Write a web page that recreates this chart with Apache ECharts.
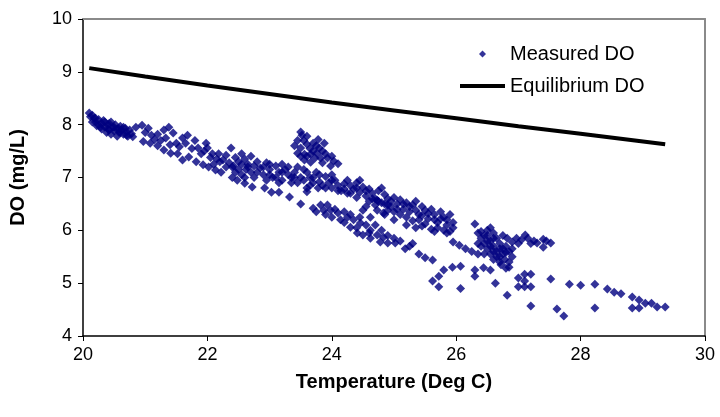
<!DOCTYPE html>
<html>
<head>
<meta charset="utf-8">
<script src="https://cdn.jsdelivr.net/npm/echarts@6/dist/echarts.min.js"></script>
<style>
html,body{margin:0;padding:0;background:#fff;}
#chart{width:720px;height:417px;}
</style>
</head>
<body>
<div id="chart"></div>
<script>
// Axis ticks
var xTicks = {min: 20, max: 30, interval: 2};
var yTicks = {min: 4, max: 10, interval: 1};

// Measured DO (temperature degC, DO mg/L)
var bandStart = [[20.1,8.22],[20.12,8.15],[20.18,8.12],[20.2,8.05],[20.25,8.1],[20.22,7.98],[20.3,8.02],[20.33,8.08],[20.35,7.95],[20.4,8.0],[20.42,7.9],[20.45,8.05],[20.48,7.95],[20.5,7.88],[20.52,8.0],[20.55,7.92],[20.58,7.85],[20.6,7.97],[20.62,7.9],[20.65,7.82],[20.68,7.93],[20.7,7.86],[20.72,7.78],[20.75,7.9],[20.78,7.83],[20.3,7.92],[20.38,7.85],[20.28,7.95],[20.15,8.05],[20.45,7.82],[20.55,7.78],
  [20.15,8.18],[20.25,8.0],[20.35,8.05],[20.4,7.92],[20.5,7.95],[20.6,7.85],[20.65,7.95],[20.7,7.8],[20.2,8.12],[20.42,8.02],[20.58,7.92]];
var upperBandWest = [[20.85,7.95],[20.95,7.99],[21.05,7.93],[21.0,7.85],[21.1,7.8],[21.2,7.82],[21.3,7.9],[21.38,7.95],[21.45,7.84],[21.33,7.75],[21.5,7.65],[21.68,7.8],[21.65,7.65],[21.8,7.7],[21.98,7.65],[21.85,7.56],[22.0,7.56],[22.08,7.45],[22.18,7.45],[22.38,7.56],[22.25,7.33],[22.35,7.28],[22.42,7.22],[22.15,7.35],[22.3,7.42],[22.45,7.38],[22.5,7.3],[22.55,7.45],[22.6,7.35],[22.65,7.25],[22.7,7.4],
  [21.15,7.72],[21.25,7.7],[21.4,7.62],[21.55,7.58],[21.75,7.55],[21.9,7.45],[22.05,7.38],[22.2,7.3],[21.6,7.75],[21.95,7.5],[22.1,7.25],[22.3,7.2]];
var lowerEdgeWest = [[20.8,7.77],[20.97,7.68],[21.08,7.65],[21.2,7.6],[21.3,7.52],[21.41,7.46],[21.52,7.45],[21.6,7.33],[21.7,7.39],[21.82,7.3],[21.93,7.24],[22.02,7.2],[22.13,7.14],[22.22,7.1],[22.4,7.0],[22.48,6.95],[22.6,6.89],[22.72,6.82],[22.92,6.8],[23.03,6.72],[23.15,6.72],[23.32,6.63],[23.5,6.5]];
var midBand = [[22.4,7.2],[22.5,7.15],[22.55,7.05],[22.62,7.15],[22.7,7.1],[22.75,7.22],[22.8,7.3],[22.85,7.18],[22.9,7.05],[22.95,7.28],[23.0,7.15],[23.05,7.0],[23.1,7.22],[23.15,7.1],[23.2,6.95],[23.25,7.15],[23.3,7.05],[23.35,6.9],[23.4,7.1],[23.45,7.2],[23.5,7.0],[23.55,6.95],[23.6,7.1],[23.65,6.85],[23.7,7.0],[23.75,7.1],[23.8,6.92],[23.85,6.85],[23.9,7.02],[23.95,6.9],[24.0,6.8],[24.05,6.95],[24.1,6.85],[24.15,6.75],[24.2,6.88],[24.25,6.7],[23.0,7.25],[23.2,7.25],[22.95,6.95],[23.35,7.0],[23.6,6.8],[24.0,7.05],[23.78,6.8],
  [22.45,7.1],[22.6,7.0],[22.65,7.2],[22.8,7.1],[22.9,7.2],[23.0,7.05],[23.1,7.0],[23.2,7.1],[23.3,7.2],[23.4,7.0],[23.45,6.9],[23.55,7.15],[23.65,7.0],[23.7,6.9],[23.8,7.05],[23.9,6.8],[24.0,6.95],[24.1,6.75],[24.2,6.78],[23.15,6.9],[22.75,7.0],[22.55,7.25]];
var stubCluster = [[23.5,7.86],[23.6,7.78],[23.4,7.6],[23.5,7.56],[23.6,7.63],[23.7,7.65],[23.78,7.72],[23.88,7.65],[23.8,7.56],[23.45,7.46],[23.56,7.44],[23.66,7.44],[23.76,7.46],[23.73,7.37],[23.56,7.33],[23.66,7.29],[23.82,7.37],[23.93,7.37],[24.03,7.31],[24.1,7.26],[23.98,7.22],[23.5,7.4],[23.85,7.28],
  [23.45,7.7],[23.55,7.7],[23.65,7.55],[23.7,7.5],[23.9,7.45],[23.6,7.4],[23.75,7.6],[24.0,7.4],[23.52,7.8],[23.85,7.5]];
var upperBandEast = [[24.25,6.95],[24.3,6.85],[24.35,6.78],[24.4,6.9],[24.45,6.72],[24.5,6.82],[24.55,6.65],[24.6,6.78],[24.65,6.7],[24.7,6.6],[24.75,6.75],[24.8,6.52],[24.85,6.68],[24.9,6.6],[24.95,6.45],[25.0,6.62],[25.05,6.5],[25.1,6.58],[25.15,6.4],[25.2,6.52],[25.25,6.35],[25.3,6.48],[25.35,6.55],[25.4,6.3],[25.45,6.45],[25.5,6.38],[25.55,6.22],[25.6,6.4],[25.65,6.3],[25.7,6.15],[25.75,6.35],[25.8,6.25],[25.85,6.1],[25.9,6.3],[25.95,6.05],[24.6,6.55],[24.9,6.38],[25.2,6.25],[25.5,6.12],[25.8,6.0],[25.1,6.3],[25.4,6.2],[25.7,6.05],[24.4,6.62],[24.7,6.48],[25.0,6.35],[25.3,6.18],[25.6,6.02],[25.85,5.95],[24.45,6.95],[24.8,6.8],
  [24.3,6.7],[24.4,6.8],[24.55,6.75],[24.65,6.6],[24.75,6.55],[24.85,6.5],[24.95,6.55],[25.05,6.4],[25.15,6.5],[25.25,6.45],[25.35,6.38],[25.45,6.28],[25.55,6.32],[25.65,6.2],[25.75,6.22],[25.85,6.2],[25.95,6.15],[25.0,6.2],[25.2,6.1],[25.45,6.08],[25.65,5.98],[24.55,6.45],[24.85,6.3],[25.35,6.05],[25.9,5.98]];
var crossCluster = [[25.95,5.78],[26.05,5.72],[26.15,5.65],[26.25,5.6],[26.35,5.55],[26.3,6.12],[26.35,5.95],[26.4,5.85],[26.45,5.75],[26.5,5.9],[26.5,5.65],[26.55,5.8],[26.55,5.55],[26.6,5.7],[26.6,5.45],[26.65,5.85],[26.65,5.6],[26.7,5.5],[26.7,5.75],[26.72,5.35],[26.75,5.65],[26.78,5.45],[26.8,5.28],[26.8,5.58],[26.85,5.4],[26.4,5.98],[26.45,5.55],[26.75,5.9],[26.82,5.85],[26.9,5.78],[26.97,5.85],[27.05,5.82],[27.11,5.91],[27.2,5.75],[27.3,5.76],[27.4,5.83],[27.4,5.68],[27.52,5.76],[26.9,5.5],[26.6,5.95],[26.5,6.0],
  [26.4,5.7],[26.45,5.9],[26.55,5.7],[26.6,5.85],[26.65,5.5],[26.7,5.4],[26.75,5.55],[26.8,5.7],[26.85,5.6],[26.6,5.6],[26.5,5.8],[26.7,5.65],[26.85,5.3],[26.35,5.75],[26.55,6.05],[26.9,5.65],[27.0,5.75],[27.15,5.85],[27.25,5.8],[27.45,5.8]];
var lowerBandEast = [[23.6,6.73],[23.7,6.42],[23.82,6.48],[23.93,6.48],[23.98,6.38],[23.87,6.38],[24.1,6.33],[24.14,6.2],[24.25,6.25],[24.35,6.2],[24.3,6.06],[24.46,6.14],[24.41,5.95],[24.5,5.91],[24.62,6.0],[24.73,5.91],[24.83,5.87],[24.62,6.25],[24.73,6.38],[24.83,6.33],[24.9,6.48],[24.5,6.38],[24.73,6.57],[24.62,5.85],[24.78,5.78],[24.9,5.76],[25.02,5.76],[25.18,5.65],[25.4,5.55],[25.5,5.48],[25.62,5.44],[25.8,5.25],[25.94,5.3],[26.07,5.32],[25.72,5.13],[25.62,5.04],[25.72,4.93],[26.3,5.25],[26.3,5.13],[26.44,5.29],[26.55,5.25],[26.63,5.0],[26.07,4.9],
  [23.75,6.35],[23.9,6.3],[24.0,6.25],[24.05,6.4],[24.2,6.15],[24.2,6.35],[24.3,6.3],[24.4,6.05],[24.45,6.25],[24.55,6.1],[24.6,5.95],[24.7,6.1],[24.8,6.0],[24.9,5.9],[25.0,5.85],[25.1,5.8],[25.25,5.7],[25.3,5.75]];
var warmTail = [[26.82,4.77],[27.0,5.1],[27.1,5.17],[27.2,5.17],[27.1,5.04],[27.0,4.93],[27.1,4.93],[27.2,4.93],[27.2,4.57],[27.52,5.08],[27.62,4.51],[27.73,4.38],[27.82,4.98],[28.0,4.96],[28.23,4.98],[28.23,4.53],[28.43,4.89],[28.54,4.83],[28.65,4.8],[28.83,4.74],[28.94,4.68],[29.04,4.62],[29.14,4.62],[28.83,4.53],[28.94,4.53],[29.23,4.55],[29.36,4.55]];

// Equilibrium DO line
var eqTemp = [20.1, 21, 22, 23, 24, 25, 26, 27, 28, 29.36];
var eqDO = [9.07, 8.91, 8.74, 8.58, 8.42, 8.27, 8.12, 7.97, 7.83, 7.63];

var measured = [].concat(bandStart, upperBandWest, lowerEdgeWest, midBand, stubCluster, upperBandEast, crossCluster, lowerBandEast, warmTail);
var eqData = eqTemp.map(function (t, i) { return [t, eqDO[i]]; });

var FONT = "'Liberation Sans', Arial, sans-serif";
var chart = echarts.init(document.getElementById('chart'), null, {renderer: 'canvas'});
chart.setOption({
  animation: false,
  backgroundColor: '#ffffff',
  textStyle: {fontFamily: FONT, color: '#000'},
  grid: {left: 82, right: 15, top: 19, bottom: 81, containLabel: false},
  legend: [
    {data: ['Measured DO'], orient: 'vertical', left: 479, top: 44, padding: 0, icon: 'diamond', itemWidth: 7, itemHeight: 7,
     textStyle: {fontFamily: FONT, fontSize: 20, color: '#000', padding: [0, 0, 0, 19]}},
    {data: ['Equilibrium DO'], orient: 'vertical', left: 460, top: 76, padding: 0, icon: 'rect', itemWidth: 45, itemHeight: 4,
     textStyle: {fontFamily: FONT, fontSize: 20, color: '#000'}}
  ],
  xAxis: [
    {type: 'value', min: xTicks.min, max: xTicks.max, interval: xTicks.interval,
     name: 'Temperature (Deg C)', nameLocation: 'middle', nameGap: 36,
     nameTextStyle: {fontFamily: FONT, fontSize: 20, fontWeight: 'bold', color: '#000'},
     axisLine: {onZero: false, lineStyle: {color: '#000', width: 1.5}},
     axisTick: {show: true, length: 5, lineStyle: {color: '#000', width: 1}},
     axisLabel: {fontFamily: FONT, fontSize: 18, color: '#000', margin: 10},
     splitLine: {show: false}},
    {type: 'value', position: 'top', min: xTicks.min, max: xTicks.max,
     axisLine: {show: true, lineStyle: {color: '#8a8a8a', width: 2}},
     axisTick: {show: false}, axisLabel: {show: false}, splitLine: {show: false}}
  ],
  yAxis: [
    {type: 'value', min: yTicks.min, max: yTicks.max, interval: yTicks.interval,
     name: 'DO (mg/L)', nameLocation: 'middle', nameGap: 55,
     nameTextStyle: {fontFamily: FONT, fontSize: 20, fontWeight: 'bold', color: '#000'},
     axisLine: {show: true, onZero: false, lineStyle: {color: '#000', width: 1.5}},
     axisTick: {show: true, length: 5, lineStyle: {color: '#000', width: 1}},
     axisLabel: {fontFamily: FONT, fontSize: 18, color: '#000', margin: 11},
     splitLine: {show: false}},
    {type: 'value', position: 'right', min: yTicks.min, max: yTicks.max,
     axisLine: {show: true, lineStyle: {color: '#8a8a8a', width: 2}},
     axisTick: {show: false}, axisLabel: {show: false}, splitLine: {show: false}}
  ],
  series: [
    {name: 'Measured DO', type: 'scatter', data: measured, symbol: 'diamond', symbolSize: 9,
     itemStyle: {color: '#000080'}, z: 2},
    {name: 'Equilibrium DO', type: 'line', data: eqData, showSymbol: false, symbol: 'none',
     lineStyle: {color: '#000', width: 4}, itemStyle: {color: '#000'}, z: 3}
  ]
});
</script>
</body>
</html>
